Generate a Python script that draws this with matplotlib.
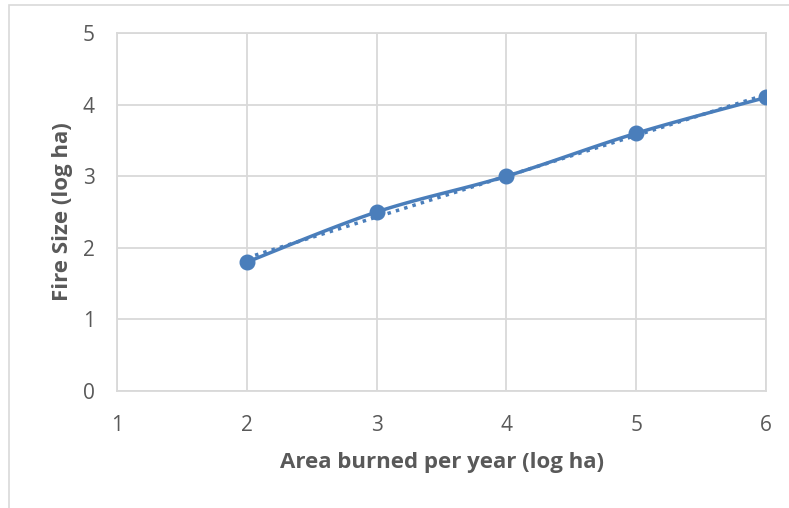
import numpy as np
import matplotlib
matplotlib.use("Agg")
import matplotlib.pyplot as plt
from matplotlib.patches import Rectangle

area_burned = [2, 3, 4, 5, 6]
fire_size = [1.8, 2.5, 3.0, 3.6, 4.1]
x_ticks = [1, 2, 3, 4, 5, 6]
y_ticks = [0, 1, 2, 3, 4, 5]

BLUE = "#4A7EBB"
GRID = "#D9D9D9"
TXT = "#595959"

W, H = 789, 508
fig = plt.figure(figsize=(W / 100, H / 100), dpi=100)
fig.patch.set_facecolor("white")

# chart area border
fig.patches.append(Rectangle((9 / W, -0.1), 1.0, 1 - 5 / H + 0.1, transform=fig.transFigure,
                             fill=False, edgecolor=GRID, linewidth=1.2))

left, right, top, bottom = 117, 766, 33, 391
ax = fig.add_axes([left / W, 1 - bottom / H, (right - left) / W, (bottom - top) / H])
ax.set_xlim(1, 6)
ax.set_ylim(0, 5)
ax.set_xticks(x_ticks)
ax.set_yticks(y_ticks)
ax.grid(True, color=GRID, linewidth=1.3)
ax.set_axisbelow(True)
for s in ax.spines.values():
    s.set_color(GRID)
    s.set_linewidth(1.3)
ax.tick_params(length=0, labelsize=15, labelcolor=TXT)
ax.tick_params(axis="x", pad=17)
ax.tick_params(axis="y", pad=16)
for lab in ax.get_xticklabels() + ax.get_yticklabels():
    lab.set_fontfamily("Open Sans")

# Excel-style smoothed line (Bezier through points)
px = np.array(area_burned, float)
py = np.array(fire_size, float)
xs, ys = [], []
n = len(px)
for i in range(n - 1):
    p0 = np.array([px[max(i - 1, 0)], py[max(i - 1, 0)]])
    p1 = np.array([px[i], py[i]])
    p2 = np.array([px[i + 1], py[i + 1]])
    p3 = np.array([px[min(i + 2, n - 1)], py[min(i + 2, n - 1)]])
    c1 = p1 + (p2 - p0) / 6
    c2 = p2 - (p3 - p1) / 6
    t = np.linspace(0, 1, 30)[:, None]
    b = (1 - t) ** 3 * p1 + 3 * (1 - t) ** 2 * t * c1 + 3 * (1 - t) * t ** 2 * c2 + t ** 3 * p2
    xs.extend(b[:, 0]); ys.extend(b[:, 1])
ax.plot(xs, ys, color=BLUE, linewidth=2.5, solid_capstyle="round", zorder=3)
ax.plot(px, py, linestyle="none", marker="o", markersize=10.5, color=BLUE, zorder=4)

# linear trendline
m, c = np.polyfit(px, py, 1)
tx = np.array([px.min(), px.max()])
ax.plot(tx, m * tx + c, color=BLUE, linewidth=2.5, linestyle=(0, (1, 1.5)), zorder=2)

ax.set_xlabel("Area burned per year (log ha)", fontsize=16, fontweight="bold", color=TXT,
              fontfamily="Open Sans", labelpad=12)
ax.set_ylabel("Fire Size (log ha)", fontsize=16, fontweight="bold", color=TXT,
              fontfamily="Open Sans", labelpad=7)

fig.savefig("out.png", dpi=100, facecolor="white")
